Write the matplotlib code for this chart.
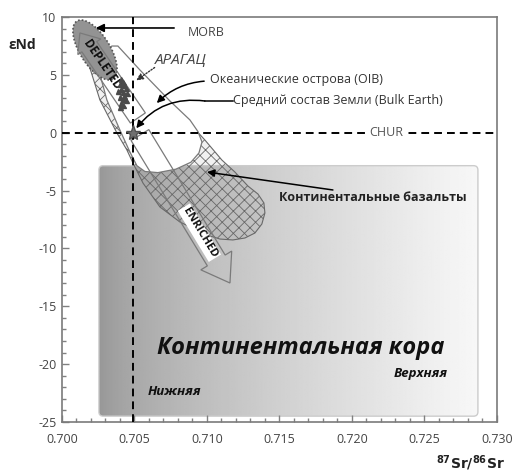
import numpy as np
import matplotlib
matplotlib.use("Agg")
import matplotlib.pyplot as plt
from matplotlib.patches import Polygon, FancyBboxPatch
from matplotlib.ticker import MultipleLocator

plt.rcParams['font.family'] = ['Open Sans', 'DejaVu Sans']
plt.rcParams['hatch.linewidth'] = 0.6
plt.rcParams['mathtext.fontset'] = 'dejavusans'

# ---------------- axes ----------------
sr_range = (0.700, 0.730)
nd_range = (-25, 10)
sr_ticks = [0.700, 0.705, 0.710, 0.715, 0.720, 0.725, 0.730]
sr_tick_labels = ['0.700', '0.705', '0.710', '0.715', '0.720', '0.725', '0.730']
nd_ticks = [10, 5, 0, -5, -10, -15, -20, -25]
nd_tick_labels = ['10', '5', '0', '-5', '-10', '-15', '-20', '-25']

# ---------------- reference reservoirs ----------------
bulk_earth_sr = 0.7049
bulk_earth_nd = 0.0
chur_nd = 0.0

# ---------------- Aragats samples ----------------
aragats_sr = [0.7041, 0.7042, 0.7040, 0.7043, 0.7044, 0.7041, 0.7039, 0.7042,
              0.7045, 0.7043, 0.7040, 0.7042, 0.7044, 0.7041, 0.7042, 0.7040]
aragats_nd = [4.60, 4.40, 4.20, 4.10, 3.90, 3.80, 3.60, 3.50,
              3.40, 3.20, 3.10, 2.90, 2.80, 2.60, 2.40, 2.25]

# ---------------- fields ----------------
# continental basalts
basalt_sr = [0.70166, 0.70193, 0.70262, 0.70379, 0.70448, 0.70490, 0.70559, 0.70676,
             0.70814, 0.71000, 0.71090, 0.71179, 0.71262, 0.71331, 0.71379, 0.71400,
             0.71393, 0.71352, 0.71283, 0.71193, 0.71103, 0.70986, 0.70897, 0.70607,
             0.70366, 0.70248]
basalt_nd = [6.28, 5.59, 2.83, -0.02, -1.49, -2.62, -4.35, -6.42,
             -7.72, -8.84, -9.19, -9.27, -9.10, -8.67, -7.89, -6.94,
             -6.07, -5.30, -4.61, -3.40, -2.36, -0.63, 0.58, 4.12,
             6.98, 6.98]
# ocean island basalts
oib_sr = [0.70345, 0.70386, 0.70538, 0.70745, 0.70883, 0.70938, 0.70966, 0.70945,
          0.70890, 0.70786, 0.70662, 0.70572, 0.70517, 0.70469, 0.70400, 0.70310,
          0.70269, 0.70276, 0.70303]
oib_nd = [7.49, 7.49, 5.42, 2.74, 1.10, 0.10, -0.80, -1.75,
          -2.55, -3.15, -3.45, -3.35, -2.85, -1.67, 0.23, 2.83,
          4.73, 6.28, 7.15]
# MORB field: centre, semi-axes in points, tilt in degrees
morb_center = (0.70228, 7.15)
morb_semi_axes = (24.5, 10.8)
morb_tilt = -58
# continental crust box
crust_sr = (0.70255, 0.72869)
crust_nd = (-24.5, -2.85)

# mantle array arrows (tail, tip)
depleted_arrow = ((0.70524, 1.27), (0.70124, 8.62))
enriched_arrow = ((0.70538, -0.20), (0.71159, -12.99))

fig = plt.figure(figsize=(5.16, 4.72), dpi=100)
ax = fig.add_axes([0.120, 0.106, 0.843, 0.858])
ax.set_xlim(*sr_range)
ax.set_ylim(*nd_range)
pt = fig.dpi / 72.0


def to_disp(x, y):
    return ax.transData.transform((x, y))


def to_data(pts):
    return ax.transData.inverted().transform(np.asarray(pts))


# continental crust with left-to-right gradient
px_per_sr = ax.bbox.width / (sr_range[1] - sr_range[0])
px_per_nd = ax.bbox.height / (nd_range[1] - nd_range[0])
crust = FancyBboxPatch((crust_sr[0], crust_nd[0]), crust_sr[1] - crust_sr[0],
                       crust_nd[1] - crust_nd[0],
                       boxstyle='round,pad=0,rounding_size=0.0003',
                       mutation_aspect=px_per_sr / px_per_nd,
                       facecolor='none', edgecolor='#cccccc', lw=1.0, zorder=1)
ax.add_patch(crust)
ramp = np.linspace(0, 1, 256)
shade = 0.59 + 0.38 * ramp ** 0.7
im = ax.imshow(np.tile(shade, (2, 1)), cmap='gray', vmin=0, vmax=1,
               extent=[crust_sr[0], crust_sr[1], crust_nd[0], crust_nd[1]],
               aspect='auto', interpolation='bilinear', zorder=0.9)
im.set_clip_path(crust)
ax.set_xlim(*sr_range)
ax.set_ylim(*nd_range)

# continental basalt field (cross-hatched)
ax.add_patch(Polygon(np.column_stack([basalt_sr, basalt_nd]), closed=True,
                     facecolor=(0.55, 0.55, 0.55, 0.12), edgecolor='#686868',
                     hatch='xxx', lw=0.8, zorder=2))

# OIB field
ax.add_patch(Polygon(np.column_stack([oib_sr, oib_nd]), closed=True,
                     facecolor='white', edgecolor='#7a7a7a', lw=0.9, zorder=3))

# MORB ellipse
t = np.linspace(0, 2 * np.pi, 120)
c = to_disp(*morb_center)
ang = np.deg2rad(morb_tilt)
a, b = morb_semi_axes[0] * pt, morb_semi_axes[1] * pt
ex = c[0] + a * np.cos(t) * np.cos(ang) - b * np.sin(t) * np.sin(ang)
ey = c[1] + a * np.cos(t) * np.sin(ang) + b * np.sin(t) * np.cos(ang)
ax.add_patch(Polygon(to_data(np.column_stack([ex, ey])), closed=True,
                     facecolor='#939393', edgecolor='#555555', lw=1.2,
                     linestyle=(0, (1, 1.2)), zorder=3.5))


def block_arrow(tail, tip, shaft, head_w, head_l, **kw):
    p0, p1 = to_disp(*tail), to_disp(*tip)
    d = p1 - p0
    u = d / np.hypot(*d)
    n = np.array([-u[1], u[0]])
    s, hw, hl = shaft * pt / 2, head_w * pt / 2, head_l * pt
    base = p1 - u * hl
    pts = [p0 + n * s, base + n * s, base + n * hw, p1,
           base - n * hw, base - n * s, p0 - n * s]
    ax.add_patch(Polygon(to_data(pts), closed=True, **kw))
    return p0, p1, np.degrees(np.arctan2(u[1], u[0]))


# DEPLETED arrow
p0, p1, angd = block_arrow(*depleted_arrow, shaft=13, head_w=20, head_l=12,
                           facecolor='none', edgecolor='#7a7a7a', lw=0.9, zorder=4)
pos = to_data([p1 + 0.38 * (p0 - p1)])[0]
ax.text(pos[0], pos[1], 'DEPLETED', rotation=angd - 180, rotation_mode='anchor',
        ha='center', va='center', fontsize=8.5, fontweight='bold', color='#111',
        zorder=5)

# ENRICHED arrow
p0, p1, ange = block_arrow(*enriched_arrow, shaft=15, head_w=26, head_l=19,
                           facecolor='none', edgecolor='#7a7a7a', lw=0.9, zorder=4)
pos = to_data([p0 + 0.66 * (p1 - p0)])[0]
ax.text(pos[0], pos[1], 'ENRICHED', rotation=ange, rotation_mode='anchor',
        ha='center', va='center', fontsize=8, fontweight='bold', color='#111',
        bbox=dict(facecolor='white', edgecolor='none', pad=1.2), zorder=5)

# CHUR and bulk-earth reference lines
ax.axhline(chur_nd, color='black', lw=1.4, dashes=(4, 2.6), zorder=6)
ax.axvline(bulk_earth_sr, color='black', lw=1.4, dashes=(4, 2.6), zorder=6)
ax.text(0.7224, chur_nd, 'CHUR', ha='center', va='center', fontsize=9, color='#555',
        bbox=dict(facecolor='white', edgecolor='none', pad=1.5), zorder=7)

# Aragats samples and bulk earth
ax.plot(aragats_sr, aragats_nd, ls='none', marker='^', ms=3.6, color='#4a4a4a',
        zorder=7)
ax.plot(bulk_earth_sr, bulk_earth_nd, ls='none', marker='*', ms=11, color='#707070',
        mec='#505050', zorder=8)

# labels with pointers
ax.annotate('', xy=(0.70214, 9.05), xytext=(0.70793, 9.05),
            arrowprops=dict(arrowstyle='-|>', color='black', lw=1.2, mutation_scale=12),
            zorder=8)
ax.text(0.70869, 8.62, 'MORB', ha='left', va='center', fontsize=9, color='#444')

ax.text(0.70821, 6.2, 'АРАГАЦ', ha='center', va='center', fontsize=11,
        style='italic', color='#444')
ax.annotate('', xy=(0.70497, 4.38), xytext=(0.70655, 5.77),
            arrowprops=dict(arrowstyle='-|>', color='#333', lw=1.0,
                            linestyle=(0, (1, 1.2)), mutation_scale=10), zorder=8)

ax.text(0.71021, 4.56, 'Океанические острова (OIB)', ha='left', va='center',
        fontsize=9, color='#333')
ax.annotate('', xy=(0.70641, 2.39), xytext=(0.71000, 4.47),
            arrowprops=dict(arrowstyle='-|>', color='black', lw=1.1,
                            connectionstyle='arc3,rad=0.2', mutation_scale=11),
            zorder=8)

ax.text(0.71179, 2.74, 'Средний состав Земли (Bulk Earth)', ha='left', va='center',
        fontsize=9, color='#333')
ax.plot([0.71179, 0.70986], [2.74, 2.74], color='black', lw=1.1, zorder=8)
ax.annotate('', xy=(bulk_earth_sr, bulk_earth_nd), xytext=(0.70986, 2.74),
            arrowprops=dict(arrowstyle='-|>', color='black', lw=1.1,
                            connectionstyle='arc3,rad=0.3', mutation_scale=11,
                            shrinkA=0, shrinkB=4), zorder=8)

ax.text(0.71497, -5.64, 'Континентальные базальты', ha='left', va='center',
        fontsize=9, fontweight='bold', color='#222')
ax.annotate('', xy=(0.71000, -3.40), xytext=(0.71869, -4.95),
            arrowprops=dict(arrowstyle='-|>', color='black', lw=1.1, mutation_scale=11,
                            shrinkA=0, shrinkB=0), zorder=8)

ax.text(0.71645, -18.6, 'Континентальная кора', ha='center', va='center',
        fontsize=17, fontweight='bold', style='italic', color='#111', zorder=8)
ax.text(0.72662, -20.77, 'Верхняя', ha='right', va='center', fontsize=9.5,
        fontweight='bold', style='italic', color='#111', zorder=8)
ax.text(0.70593, -22.4, 'Нижняя', ha='left', va='center', fontsize=9.5,
        fontweight='bold', style='italic', color='#111', zorder=8)

# axes styling
ax.set_xticks(sr_ticks)
ax.set_xticklabels(sr_tick_labels)
ax.set_yticks(nd_ticks)
ax.set_yticklabels(nd_tick_labels)
ax.xaxis.set_minor_locator(MultipleLocator(0.001))
ax.yaxis.set_minor_locator(MultipleLocator(1))
ax.tick_params(which='both', direction='in', color='#808080', width=1.0,
               labelsize=9, labelcolor='#444')
ax.tick_params(axis='x', which='both', pad=8)
ax.tick_params(axis='y', which='both', pad=4)
ax.tick_params(which='major', length=5)
ax.tick_params(which='minor', length=3)
for sp in ax.spines.values():
    sp.set_color('#7a7a7a')
    sp.set_linewidth(1.2)

fig.text(0.043, 0.905, 'εNd', ha='center', va='center', fontsize=10,
         fontweight='bold', color='#222')
fig.text(0.979, 0.019, r'$\mathbf{^{87}Sr/^{86}Sr}$', ha='right', va='center',
         fontsize=10, color='#222')

fig.savefig('out.png', dpi=100)
